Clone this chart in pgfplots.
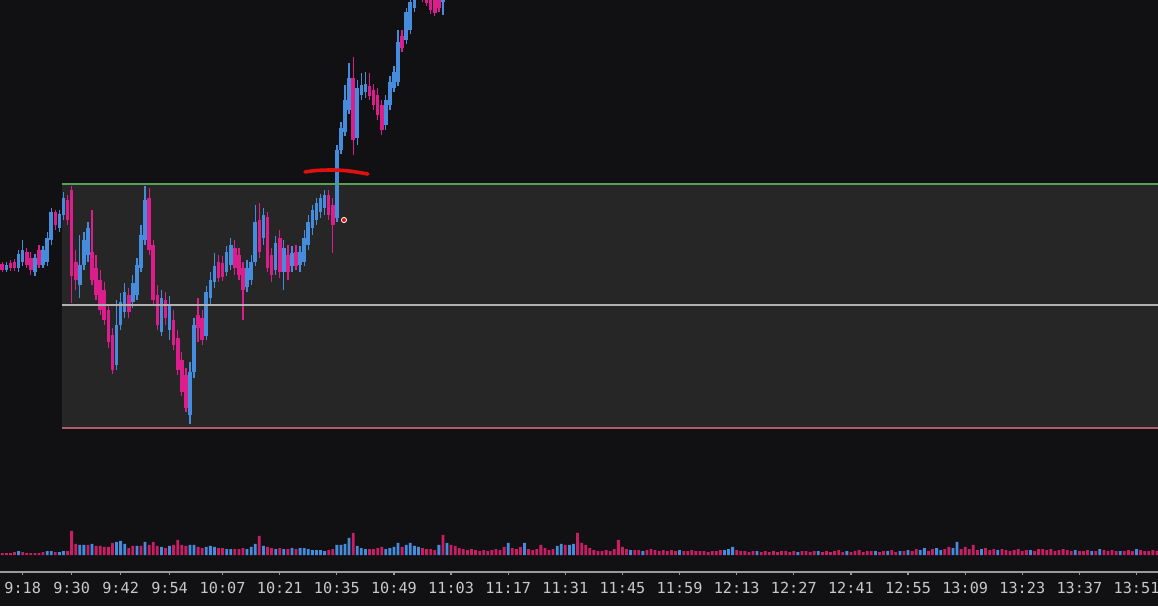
\documentclass[border=0pt]{standalone}
\usepackage{pgfplots}
\pgfplotsset{compat=1.18}
\usepackage{pgfplotstable}
\usepackage{fontspec}
\newfontfamily\monofont{DejaVu Sans Mono}
\definecolor{bg}{HTML}{111113}
\definecolor{boxc}{HTML}{262626}
\definecolor{gline}{HTML}{5A9E5A}
\definecolor{mline}{HTML}{B0B0B0}
\definecolor{rline}{HTML}{B05A6A}
\definecolor{axgray}{HTML}{9A9A9A}
\definecolor{labc}{HTML}{C8C8C8}
\definecolor{cblue}{HTML}{468CDC}
\definecolor{cmag}{HTML}{DC1E8C}
\definecolor{vmag}{HTML}{C81E64}
\definecolor{annot}{HTML}{E01010}

% candles: minute (0 = 9:18), body top, body bottom, wick top, wick bottom (pixel rows from top)
\pgfplotstableread{
m bt bb wt wb
-4 265 270 262 272
-1 254 268 250 272
0 250 262 240 266
3 258 272 254 276
5 250 265 246 268
6 238 262 232 266
7 212 240 208 245
9 214 228 210 232
10 198 215 192 220
14 265 285 235 298
15 240 265 232 270
16 228 255 222 262
23 325 365 300 370
24 302 325 293 330
25 292 312 283 318
27 283 302 275 308
28 265 295 258 300
29 235 268 225 272
30 200 240 186 245
34 298 332 290 336
36 305 330 296 340
41 372 415 362 424
42 325 372 318 378
45 292 336 286 340
46 280 298 272 304
47 266 282 253 288
50 252 272 246 276
51 245 265 238 270
55 268 287 260 292
56 262 280 255 285
57 222 262 205 266
59 215 238 208 245
62 243 270 236 275
64 248 272 240 290
66 253 266 246 272
68 252 265 246 272
69 238 262 230 266
70 222 245 215 250
71 210 228 205 235
72 203 220 198 225
73 198 212 194 218
74 195 208 190 215
77 150 218 145 222
78 128 150 122 154
79 100 132 85 136
80 78 110 63 114
82 88 138 80 145
83 85 95 73 100
84 84 92 72 98
89 100 125 95 130
90 82 105 76 110
91 72 88 66 92
92 42 82 30 86
94 12 40 8 44
95 2 30 -4 34
96 -10 8 -15 12
97 -30 -5 -35 0
103 -15 2 -20 15
}\upcandles
\pgfplotstableread{
m bt bb wt wb
-5 264 270 262 272
-3 263 268 260 271
-2 262 268 259 271
1 252 265 248 268
2 258 270 252 275
4 250 265 245 268
8 212 225 210 230
11 200 220 195 225
12 190 276 186 303
13 262 280 250 290
17 252 280 210 285
18 268 295 255 300
19 280 310 270 315
20 290 320 282 325
21 310 342 305 348
22 335 370 328 374
26 295 312 288 318
31 198 250 188 255
32 245 300 240 305
33 295 325 285 330
35 300 318 292 325
37 320 345 310 350
38 338 370 330 375
39 360 392 352 396
40 375 408 368 412
43 315 328 298 342
44 318 340 310 345
48 262 278 255 282
49 263 277 256 281
52 248 268 240 275
53 255 275 248 280
54 268 290 262 320
58 220 252 203 258
60 217 268 212 272
61 255 275 248 282
63 238 272 230 278
65 255 272 245 280
67 252 266 245 270
75 195 215 190 220
76 205 225 198 253
81 78 140 57 155
85 86 96 73 100
86 90 105 84 110
87 95 115 88 120
88 105 130 100 135
93 36 48 30 52
98 -20 -2 -25 2
99 -15 3 -20 6
100 -5 10 -10 14
101 -5 13 -8 16
102 -10 8 -14 12
}\downcandles

\begin{document}
\begin{tikzpicture}
\path[use as bounding box] (0,0) rectangle (579pt,303pt);
\clip (0,0) rectangle (579pt,303pt);
\fill[bg] (0,0) rectangle (579pt,303pt);
\begin{axis}[
  at={(0pt,17pt)}, anchor=south west,
  scale only axis, width=579pt, height=286pt,
  xmin=-5.56, xmax=278.26, ymin=0, ymax=572,
  axis x line*=bottom, axis y line=none,
  x axis line style={draw=axgray, line width=0.9pt, -},
  tick align=outside, major tick length=1.6pt,
  tick style={draw=axgray, line width=0.6pt},
  xtick={0,12,24,36,49,63,77,91,105,119,133,147,161,175,189,203,217,231,245,259,273},
  xticklabels={9:18,9:30,9:42,9:54,10:07,10:21,10:35,10:49,11:03,11:17,11:31,11:45,11:59,12:13,12:27,12:41,12:55,13:09,13:23,13:37,13:51},
  xticklabel style={font=\monofont\fontsize{7.6}{8}\selectfont, text=labc},
  ytick=\empty,
]
% range box
\addplot[fill=boxc, draw=none] coordinates {(9.63,144) (290,144) (290,388) (9.63,388)} -- cycle;
% candles: wicks
\addplot[draw=none, mark=none, error bars/.cd, y dir=both, y explicit, error mark=none,
  error bar style={draw=cblue, line width=0.65pt}]
  table[x=m, y expr={572-(\thisrow{wt}+\thisrow{wb})/2}, y error expr={(\thisrow{wb}-\thisrow{wt})/2}] {\upcandles};
\addplot[draw=none, mark=none, error bars/.cd, y dir=both, y explicit, error mark=none,
  error bar style={draw=cmag, line width=0.65pt}]
  table[x=m, y expr={572-(\thisrow{wt}+\thisrow{wb})/2}, y error expr={(\thisrow{wb}-\thisrow{wt})/2}] {\downcandles};
% candles: bodies
\addplot[draw=none, mark=none, error bars/.cd, y dir=both, y explicit, error mark=none,
  error bar style={draw=cblue, line width=1.8pt}]
  table[x=m, y expr={572-(\thisrow{bt}+\thisrow{bb})/2}, y error expr={max((\thisrow{bb}-\thisrow{bt})/2,0.8)}] {\upcandles};
\addplot[draw=none, mark=none, error bars/.cd, y dir=both, y explicit, error mark=none,
  error bar style={draw=cmag, line width=1.8pt}]
  table[x=m, y expr={572-(\thisrow{bt}+\thisrow{bb})/2}, y error expr={max((\thisrow{bb}-\thisrow{bt})/2,0.8)}] {\downcandles};
% range lines
\addplot[draw=gline, line width=1pt] coordinates {(9.63,388) (290,388)};
\addplot[draw=mline, line width=1.3pt] coordinates {(9.63,267) (290,267)};
\addplot[draw=rline, line width=1pt] coordinates {(9.63,144) (290,144)};
% hand-drawn annotation
\addplot[draw=annot, line width=1.8pt, smooth, line cap=round] coordinates {(69.2,400) (72,401.5) (76,402) (80,401) (84.6,398)};
% cursor marker
\addplot[only marks, mark=*, mark size=1.3pt, mark options={fill=annot, draw=white, line width=0.4pt}] coordinates {(78.75,352)};
\end{axis}

\begin{axis}[
  at={(0pt,25.5pt)}, anchor=south west,
  scale only axis, width=579pt, height=30pt,
  xmin=-5.56, xmax=278.26, ymin=0, ymax=60,
  hide axis,
]
\addplot[ybar, bar width=1.4pt, bar shift=0pt, fill=vmag, draw=none] coordinates {
(-5,2) (-4,2) (-3,2) (-2,3) (0,3) (1,2) (2,2) (3,2) (4,2) (5,3) (8,3) (11,4) (12,24) (13,11) (16,10) (18,9) (19,9) (20,8) (21,8) (22,12) (26,7) (27,9) (29,9) (31,10) (32,13) (33,9) (35,7) (37,10) (38,15) (39,10) (40,9) (43,8) (44,7) (48,7) (49,7) (52,6) (53,6) (54,7) (58,19) (60,8) (61,7) (63,7) (65,6) (67,6) (75,5) (76,6) (81,22) (85,6) (86,6) (87,7) (88,8) (93,8) (98,7) (99,6) (100,6) (101,5) (103,20) (105,10) (106,9) (107,7) (108,6) (109,5) (110,6) (111,5) (112,4) (113,5) (114,4) (115,5) (116,6) (117,5) (118,8) (120,7) (121,6) (122,8) (124,6) (125,5) (126,6) (127,10) (128,7) (129,5) (130,6) (133,10) (136,22) (137,12) (138,10) (139,7) (140,5) (141,4) (142,4) (143,5) (144,4) (145,6) (146,15) (147,8) (148,6) (150,5) (151,5) (153,5) (154,6) (155,5) (156,4) (157,5) (158,4) (159,5) (160,4) (162,4) (163,4) (164,5) (165,4) (166,4) (167,4) (168,3) (169,4) (170,4) (171,5) (175,5) (176,4) (177,4) (178,3) (179,4) (181,3) (182,4) (183,3) (184,4) (185,3) (186,4) (187,4) (188,3) (189,4) (191,4) (192,4) (193,3) (194,4) (196,3) (197,4) (198,3) (199,4) (200,5) (201,3) (203,3) (204,4) (205,5) (206,3) (207,4) (208,4) (210,3) (211,4) (213,5) (214,3) (216,4) (218,4) (219,6) (222,4) (223,6) (226,6) (227,8) (230,6) (231,8) (232,6) (233,10) (234,5) (236,7) (237,5) (238,6) (240,6) (241,5) (242,4) (243,5) (244,6) (245,4) (246,5) (248,4) (249,6) (250,6) (251,5) (252,6) (253,4) (254,5) (255,6) (256,5) (257,4) (259,4) (260,4) (261,5) (263,4) (265,5) (266,4) (267,5) (268,4) (270,4) (271,5) (272,4) (274,5) (275,4) (276,4) (277,5) (278,4)
};
\addplot[ybar, bar width=1.4pt, bar shift=0pt, fill=cblue, draw=none] coordinates {
(-1,4) (6,4) (7,4) (9,3) (10,4) (14,10) (15,10) (17,11) (23,13) (24,14) (25,11) (28,9) (30,13) (34,8) (36,9) (41,10) (42,10) (45,8) (46,9) (47,8) (50,6) (51,6) (55,6) (56,8) (57,11) (59,9) (62,6) (64,6) (66,7) (68,7) (69,7) (70,6) (71,5) (72,5) (73,5) (74,4) (77,10) (78,10) (79,11) (80,17) (82,9) (83,7) (84,6) (89,6) (90,7) (91,8) (92,12) (94,10) (95,12) (96,9) (97,8) (102,10) (104,12) (119,12) (123,12) (131,9) (132,11) (134,10) (135,11) (149,5) (152,4) (161,5) (172,5) (173,6) (174,8) (180,4) (190,3) (195,4) (202,4) (209,4) (212,4) (215,4) (217,5) (220,5) (221,7) (224,7) (225,5) (228,7) (229,13) (235,6) (239,5) (247,5) (258,5) (262,4) (264,6) (269,4) (273,6)
};
\end{axis}
\end{tikzpicture}
\end{document}
